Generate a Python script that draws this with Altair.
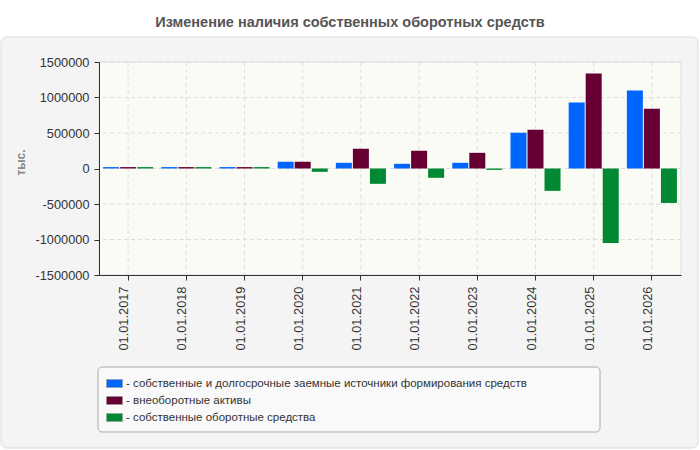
import altair as alt
import pandas as pd

# Reporting dates
dates = ["01.01.2017", "01.01.2018", "01.01.2019", "01.01.2020", "01.01.2021",
         "01.01.2022", "01.01.2023", "01.01.2024", "01.01.2025", "01.01.2026"]

# Series names (legend order)
series = [
    "собственные и долгосрочные заемные источники формирования средств",
    "внеоборотные активы",
    "собственные оборотные средства",
]
colors = ["#0066FF", "#660033", "#008833"]

# Values, thousand roubles
own_and_long_term = [20000, 20000, 20000, 95000, 80000, 66000, 80000, 504000, 928000, 1097000]
non_current_assets = [20000, 20000, 20000, 95000, 278000, 250000, 221000, 546000, 1337000, 843000]
working_capital = [20000, 20000, 20000, -47000, -216000, -131000, -19000, -315000, -1050000, -485000]

y_ticks = [-1500000, -1000000, -500000, 0, 500000, 1000000, 1500000]

rows = []
for name, vals in zip(series, [own_and_long_term, non_current_assets, working_capital]):
    for d, v in zip(dates, vals):
        rows.append({"date": d, "series": name, "value": v})
df = pd.DataFrame(rows)

W, H = 582, 213
FONT = "Liberation Sans"

x_scale = alt.Scale(domain=dates, paddingInner=0.14, paddingOuter=0.07)
y_scale = alt.Scale(domain=[y_ticks[0], y_ticks[-1]], nice=False, zero=False)

x_axis = alt.Axis(title=None, labelAngle=-90, labelAlign="right",
                  labelBaseline="alphabetic", labelPadding=6,
                  tickSize=5, grid=False, zindex=1)
y_axis = alt.Axis(values=y_ticks, labelExpr="'' + datum.value", title="тыс.",
                  titleX=-79, titleY=100, titleAngle=-90,
                  titleAlign="center", titleBaseline="middle",
                  titleColor="#888888", titleFontSize=12,
                  titleFontWeight="bold", tickSize=5,
                  labelPadding=5, grid=False, zindex=1)

# Grey rounded panel behind the plot
panel = alt.Chart(alt.Data(values=[{}])).mark_rect(
    fill="#f4f4f4", stroke="#dadada", strokeWidth=1, cornerRadius=6
).encode(
    x=alt.value(-98), x2=alt.value(599), y=alt.value(-25), y2=alt.value(386)
)

# Legend frame
legend_box = alt.Chart(alt.Data(values=[{}])).mark_rect(
    fill="#f9f9f9", stroke="#aaaaaa", strokeWidth=1, cornerRadius=4
).encode(
    x=alt.value(-1), x2=alt.value(501), y=alt.value(305), y2=alt.value(370)
)

# Plot area background
plot_bg = alt.Chart(alt.Data(values=[{}])).mark_rect(
    fill="#fbfbf6", stroke="#dddddd", strokeWidth=1
).encode(
    x=alt.value(0), x2=alt.value(W), y=alt.value(0), y2=alt.value(H)
)

# Dashed grid
vgrid = alt.Chart(pd.DataFrame({"date": dates})).mark_rule(
    color="#dddddd", strokeDash=[4, 3], strokeWidth=1
).encode(x=alt.X("date:N", scale=x_scale, sort=dates, axis=x_axis))

hgrid = alt.Chart(pd.DataFrame({"value": y_ticks})).mark_rule(
    color="#dddddd", strokeDash=[4, 3], strokeWidth=1
).encode(y=alt.Y("value:Q", scale=y_scale, axis=y_axis))

bars = alt.Chart(df).mark_bar().encode(
    x=alt.X("date:N", scale=x_scale, sort=dates, axis=x_axis),
    xOffset=alt.XOffset("series:N", sort=series,
                        scale=alt.Scale(domain=series, paddingInner=0.06)),
    y=alt.Y("value:Q", scale=y_scale, axis=y_axis),
    color=alt.Color("series:N", sort=series,
                    scale=alt.Scale(domain=series, range=colors),
                    legend=alt.Legend(
                        title=None, orient="none", legendX=-1, legendY=305,
                        direction="vertical",
                        symbolType="M-1,-0.5H1V0.5H-1Z", symbolSize=256,
                        symbolStrokeWidth=0.6, symbolStrokeColor="#999999",
                        labelExpr="'- ' + datum.label",
                        labelFont=FONT, labelFontSize=11.5, labelColor="#333333",
                        labelOffset=3, rowPadding=3, padding=8,
                        zindex=1, labelLimit=0)),
)

chart = alt.layer(panel, legend_box, plot_bg, vgrid, hgrid, bars).properties(
    width=W, height=H,
    title=alt.TitleParams(
        "Изменение наличия собственных оборотных средств",
        anchor="middle", frame="group", dx=-40, offset=6,
        font=FONT, fontSize=14.5, fontWeight="bold", color="#555555", zindex=1),
    autosize=alt.AutoSizeParams(type="none"),
    padding={"left": 99, "top": 62, "right": 19, "bottom": 175},
    background="#ffffff",
).configure_view(
    stroke=None
).configure_axis(
    labelFont=FONT, labelFontSize=12.8, labelColor="#333333",
    titleFont=FONT, domainColor="#333333", tickColor="#333333",
    domainWidth=1, tickWidth=1,
)

chart.save("out.html", embed_options={"renderer": "svg", "actions": False})
